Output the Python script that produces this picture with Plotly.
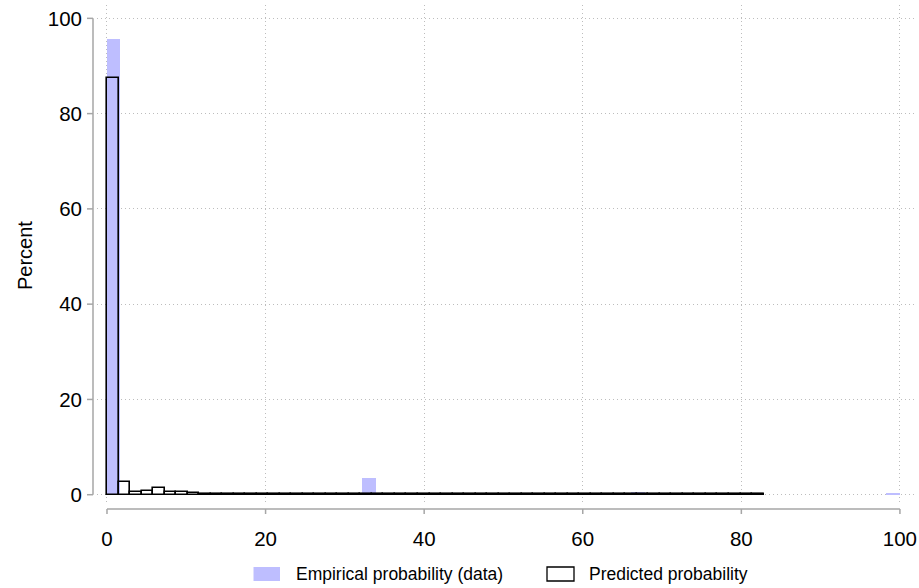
import plotly.graph_objects as go

# ---- data -------------------------------------------------------------
# Empirical distribution: equal-width bins over 0-100, only occupied bins listed
emp_nbins = 59
emp_lo, emp_hi = 0.0, 100.0
emp_bin_index = [0, 19, 39, 58]
emp_percent = [95.6, 3.6, 0.6, 0.2]

# Predicted distribution: equal-width bins from 0 to the largest prediction
pred_lo, pred_hi = 0.0, 82.8
pred_percent = [
    87.4, 2.7, 0.6, 0.8, 1.4, 0.5, 0.5, 0.3, 0.25, 0.2,
    0.2, 0.18, 0.17, 0.16, 0.15, 0.15, 0.14, 0.14, 0.13, 0.13,
    0.12, 0.12, 0.12, 0.12, 0.11, 0.11, 0.11, 0.11, 0.11, 0.10,
    0.10, 0.10, 0.10, 0.10, 0.10, 0.10, 0.10, 0.10, 0.10, 0.09,
    0.09, 0.09, 0.09, 0.09, 0.09, 0.09, 0.09, 0.09, 0.09, 0.08,
    0.08, 0.08, 0.08, 0.08, 0.08, 0.08, 0.08,
]

x_ticks = [0, 20, 40, 60, 80, 100]
y_ticks = [0, 20, 40, 60, 80, 100]
legend_labels = ["Empirical probability (data)", "Predicted probability"]
y_title = "Percent"

# ---- styling ------------------------------------------------------------
W, H = 919, 588
M_L, M_R, M_T, M_B = 97, 4, 5, 84
PLOT_W, PLOT_H = W - M_L - M_R, H - M_T - M_B
FONT = "Liberation Sans, Arial, Helvetica, sans-serif"
BLUE = "rgb(190,190,255)"
AXIS_GREY = "#a6a6a6"
GRID_GREY = "#bdbdbd"
GRID_DASH = "1px,3px"
TICK_SIZE = 20.5


def px_x(px):
    return (px - M_L) / PLOT_W


def px_y(py):
    return (H - M_B - py) / PLOT_H


emp_w = (emp_hi - emp_lo) / emp_nbins
emp_x = [emp_lo + (i + 0.5) * emp_w for i in emp_bin_index]

pred_w = (pred_hi - pred_lo) / len(pred_percent)
pred_x = [pred_lo + (i + 0.5) * pred_w for i in range(len(pred_percent))]

fig = go.Figure()
fig.add_trace(go.Bar(
    x=emp_x, y=emp_percent, width=emp_w,
    marker=dict(color=BLUE, line=dict(width=0)),
    name=legend_labels[0], showlegend=False,
))
fig.add_trace(go.Bar(
    x=pred_x, y=pred_percent, width=pred_w,
    marker=dict(color="rgba(0,0,0,0)", line=dict(color="black", width=1.6)),
    name=legend_labels[1], showlegend=False,
))

# data ranges leave a small margin round 0-100 inside the plot region
x_range = [-1.26, 101.9]
y_range = [-1.95, 102.8]

shapes = []
# detached axis lines with outward ticks
xa_y = px_y(509)
ya_x = px_x(93)
tick_len_y = 5 / PLOT_H
tick_len_x = 6 / PLOT_W
shapes.append(dict(type="line", xref="x", yref="paper", x0=x_ticks[0], x1=x_ticks[-1],
                   y0=xa_y, y1=xa_y, line=dict(color=AXIS_GREY, width=1.5)))
for t in x_ticks:
    shapes.append(dict(type="line", xref="x", yref="paper", x0=t, x1=t,
                       y0=xa_y, y1=xa_y - tick_len_y, line=dict(color=AXIS_GREY, width=1.5)))
shapes.append(dict(type="line", xref="paper", yref="y", x0=ya_x, x1=ya_x,
                   y0=y_ticks[0], y1=y_ticks[-1], line=dict(color=AXIS_GREY, width=1.5)))
for t in y_ticks:
    shapes.append(dict(type="line", xref="paper", yref="y", x0=ya_x, x1=ya_x - tick_len_x,
                       y0=t, y1=t, line=dict(color=AXIS_GREY, width=1.5)))

# legend keys below the plot
leg_y0, leg_y1 = px_y(581), px_y(567)
shapes.append(dict(type="rect", xref="paper", yref="paper", x0=px_x(253.5), x1=px_x(280),
                   y0=leg_y0, y1=leg_y1, fillcolor=BLUE, line=dict(width=0)))
shapes.append(dict(type="rect", xref="paper", yref="paper", x0=px_x(547), x1=px_x(574),
                   y0=leg_y0, y1=leg_y1, fillcolor="white", line=dict(color="black", width=1.3)))

annotations = [
    dict(text=legend_labels[0], xref="paper", yref="paper", x=px_x(294), y=px_y(574),
         xanchor="left", yanchor="middle", showarrow=False,
         font=dict(family=FONT, size=17.5, color="black")),
    dict(text=legend_labels[1], xref="paper", yref="paper", x=px_x(587), y=px_y(574),
         xanchor="left", yanchor="middle", showarrow=False,
         font=dict(family=FONT, size=17.5, color="black")),
    dict(text=y_title, xref="paper", yref="paper", x=px_x(25), y=px_y(256),
         xanchor="center", yanchor="middle", textangle=-90, showarrow=False,
         font=dict(family=FONT, size=20, color="black")),
]

fig.update_layout(
    width=W, height=H,
    margin=dict(l=M_L, r=M_R, t=M_T, b=M_B, autoexpand=False),
    paper_bgcolor="white", plot_bgcolor="white",
    barmode="overlay", bargap=0,
    font=dict(family=FONT, color="black"),
    showlegend=False,
    shapes=shapes, annotations=annotations,
    xaxis=dict(
        range=x_range, tickvals=x_ticks, ticks="", showline=False, zeroline=False,
        showgrid=True, gridcolor=GRID_GREY, griddash=GRID_DASH, gridwidth=1,
        tickfont=dict(family=FONT, size=TICK_SIZE, color="black"), ticklabelstandoff=20,
    ),
    yaxis=dict(
        range=y_range, tickvals=y_ticks, ticks="", showline=False, zeroline=False,
        showgrid=True, gridcolor=GRID_GREY, griddash=GRID_DASH, gridwidth=1,
        tickfont=dict(family=FONT, size=TICK_SIZE, color="black"), ticklabelstandoff=14,
    ),
)

fig.write_html("out.html")
